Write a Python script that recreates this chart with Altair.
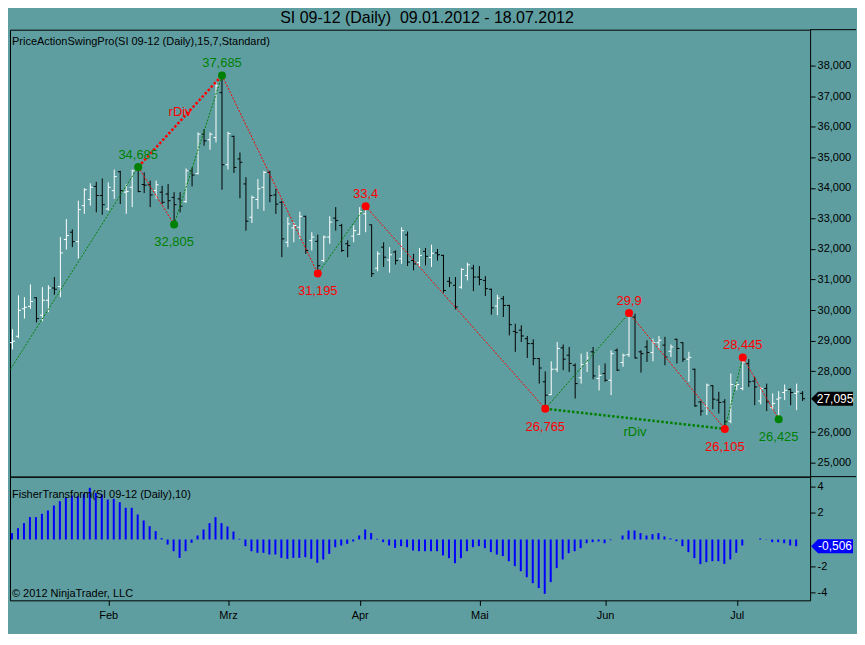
import json
import altair as alt
import pandas as pd

# ---------------- data ----------------
opens = [28.93, 29.14, 30.04, 30.12, 30.40, 29.83, 30.32, 30.72, 30.77, 32.31,
         32.55, 32.24, 33.42, 33.62, 34.05, 33.75, 33.31, 33.91, 34.53, 33.86,
         34.02, 34.67, 34.11, 34.10, 33.91, 33.86, 33.80, 33.69, 33.64, 33.55,
         34.56, 34.47, 35.76, 35.58, 35.65, 37.12, 34.76, 35.69, 34.95, 34.13,
         33.04, 33.62, 34.02, 34.51, 33.77, 33.53, 32.22, 32.69, 32.71, 33.07,
         32.28, 32.25, 31.62, 32.39, 33.01, 32.77, 32.17, 32.42, 32.48, 33.15,
         32.79, 31.37, 32.06, 31.64, 31.90, 31.68, 32.46, 31.62, 31.55, 31.92,
         31.72, 31.87, 31.79, 30.94, 30.81, 30.75, 31.13, 31.37, 31.08, 30.97,
         30.68, 30.13, 30.37, 30.15, 29.30, 29.34, 29.06, 28.90, 28.41, 27.65,
         27.23, 28.06, 28.76, 28.52, 28.19, 27.78, 28.25, 28.63, 27.76, 27.92,
         27.70, 28.68, 28.28, 28.54, 29.77, 28.63, 28.79, 28.61, 28.93, 28.85,
         28.65, 29.04, 28.93, 28.39, 28.06, 26.99, 26.86, 27.52, 27.05, 26.99,
         26.36, 27.51, 27.43, 28.25, 27.67, 27.02, 27.43, 26.80, 27.08, 27.30,
         27.40, 27.27, 27.27]
highs = [29.37, 30.48, 30.42, 30.84, 30.42, 30.75, 30.81, 31.08, 32.39, 32.98,
         32.64, 33.58, 33.99, 34.15, 34.20, 34.31, 34.18, 34.60, 34.56, 34.13,
         34.60, 34.685, 34.51, 34.24, 34.24, 34.07, 34.13, 33.86, 33.86, 34.64,
         34.67, 35.82, 35.93, 35.82, 37.45, 37.685, 35.84, 35.71, 35.16, 34.35,
         33.75, 34.29, 34.56, 34.56, 33.97, 33.58, 33.04, 32.88, 33.22, 33.09,
         32.55, 32.47, 32.44, 33.07, 33.37, 32.82, 32.28, 32.77, 33.37, 33.40,
         32.80, 31.92, 32.22, 32.06, 31.95, 32.71, 32.57, 31.84, 32.03, 32.03,
         32.14, 32.00, 31.81, 31.08, 31.08, 31.37, 31.55, 31.48, 31.44, 31.11,
         30.70, 30.50, 30.46, 30.17, 29.55, 29.50, 29.15, 29.04, 28.43, 27.99,
         28.32, 28.95, 28.87, 28.79, 28.25, 28.57, 28.63, 28.79, 28.19, 28.25,
         28.68, 28.74, 28.57, 29.90, 29.88, 28.68, 29.01, 29.06, 29.15, 29.12,
         28.87, 29.06, 28.95, 28.63, 28.08, 27.02, 27.59, 27.54, 27.32, 27.08,
         27.92, 27.65, 28.445, 28.39, 27.81, 27.48, 27.59, 27.27, 27.34, 27.56,
         27.43, 27.59, 27.34]
lows = [28.71, 29.08, 29.72, 30.04, 29.59, 29.63, 29.93, 30.50, 30.42, 31.98,
        32.06, 31.68, 33.15, 33.42, 33.20, 33.12, 33.26, 33.64, 33.47, 33.15,
        33.37, 33.86, 33.83, 33.37, 33.64, 33.47, 33.31, 32.805, 33.20, 33.51,
        34.05, 34.44, 35.38, 35.25, 35.49, 33.94, 34.60, 34.49, 33.66, 32.60,
        32.85, 33.31, 33.25, 33.53, 33.15, 31.73, 32.06, 32.22, 32.33, 31.84,
        31.95, 31.195, 31.57, 32.17, 32.60, 31.90, 31.73, 32.22, 32.46, 32.55,
        31.08, 31.27, 31.41, 31.22, 31.49, 31.51, 31.44, 31.30, 31.41, 31.46,
        31.41, 31.62, 30.57, 30.75, 30.02, 30.70, 30.97, 30.62, 30.81, 30.46,
        29.85, 29.83, 29.77, 29.17, 28.63, 28.95, 28.43, 28.19, 27.59, 26.765,
        27.21, 27.97, 28.03, 27.97, 27.10, 27.59, 27.97, 27.73, 27.37, 27.65,
        27.21, 28.00, 28.14, 28.46, 28.41, 27.95, 28.30, 28.32, 28.71, 28.19,
        28.46, 28.25, 28.30, 27.65, 26.83, 26.54, 26.56, 26.75, 26.61, 26.105,
        26.29, 27.37, 27.37, 27.48, 26.88, 26.91, 26.69, 26.72, 26.425, 27.05,
        26.88, 26.72, 27.02]
closes = [28.98, 29.99, 30.09, 30.28, 29.72, 30.32, 30.72, 30.68, 31.87, 32.44,
          32.24, 33.29, 33.94, 34.02, 33.75, 33.45, 34.02, 34.37, 33.91, 33.88,
          34.56, 33.88, 34.09, 33.77, 34.10, 33.53, 33.58, 33.45, 33.40, 34.56,
          34.42, 35.76, 35.54, 35.76, 37.34, 34.76, 35.78, 34.67, 34.84, 32.91,
          33.69, 33.97, 34.51, 33.75, 33.47, 32.33, 32.82, 32.77, 33.07, 31.95,
          32.39, 31.45, 32.39, 32.88, 32.93, 31.95, 32.11, 32.60, 33.22, 33.37,
          31.19, 31.84, 31.73, 31.81, 31.62, 32.60, 31.57, 31.51, 31.79, 31.76,
          31.86, 31.81, 30.64, 30.89, 30.10, 31.33, 31.48, 31.08, 31.00, 30.70,
          30.07, 30.39, 30.15, 29.52, 29.26, 29.15, 28.90, 28.41, 28.10, 27.21,
          28.06, 28.74, 28.39, 28.25, 27.59, 28.21, 28.43, 27.84, 27.86, 27.70,
          28.57, 28.03, 28.52, 29.83, 28.43, 28.57, 28.61, 28.93, 29.01, 28.46,
          28.79, 28.74, 28.39, 28.45, 26.86, 26.69, 27.54, 27.08, 26.97, 26.34,
          27.56, 27.56, 28.30, 27.65, 27.48, 27.43, 26.99, 26.94, 27.12, 27.37,
          27.30, 27.32, 27.095]

fisher = [0.48, 0.85, 1.23, 1.68, 1.68, 1.93, 2.18, 2.55, 2.88, 3.13,
          3.30, 3.25, 3.43, 3.88, 3.50, 3.38, 3.00, 3.05, 2.80, 2.38,
          2.38, 1.88, 1.43, 1.00, 0.63, 0.10, -0.38, -0.88, -1.38, -0.88,
          -0.25, 0.30, 0.75, 1.23, 1.68, 1.23, 0.98, 0.60, 0.05, -0.50,
          -0.88, -1.00, -1.00, -1.13, -1.13, -1.38, -1.45, -1.38, -1.38, -1.33,
          -1.45, -1.75, -1.50, -1.08, -0.58, -0.45, -0.33, -0.15, 0.30, 0.75,
          0.48, 0.05, -0.20, -0.45, -0.63, -0.50, -0.58, -0.83, -0.88, -0.88,
          -0.88, -0.88, -1.20, -1.40, -1.78, -1.40, -0.88, -0.58, -0.50, -0.65,
          -0.95, -1.13, -1.25, -1.63, -2.00, -2.38, -2.83, -3.28, -3.65, -4.08,
          -3.20, -2.15, -1.50, -1.03, -0.88, -0.65, -0.28, -0.20, -0.15, -0.28,
          -0.05, 0.0, 0.30, 0.68, 0.68, 0.48, 0.30, 0.40, 0.48, 0.23,
          0.08, -0.13, -0.50, -0.95, -1.40, -1.85, -1.70, -1.63, -1.63, -1.83,
          -1.50, -1.00, -0.45, 0.0, 0.0, 0.08, 0.02, -0.20, -0.20, -0.28,
          -0.45, -0.506]

month_idx = [16, 36, 58, 78, 99, 121]
month_names = ["Feb", "Mrz", "Apr", "Mai", "Jun", "Jul"]

swing_idx = [-5, 21, 27, 35, 51, 59, 89, 103, 119, 122, 128]
swing_price = [26.61, 34.685, 32.805, 37.685, 31.195, 33.40, 26.765, 29.90, 26.105, 28.445, 26.425]
swing_tone = ["", "g", "g", "g", "r", "r", "r", "r", "r", "r", "g"]

div_from = [21, 89]
div_to = [35, 119]
div_tone = ["r", "g"]
div_text = ["rDiv", "rDiv"]

price_ticks = list(range(25, 39))
fisher_ticks = [-4, -2, 0, 2, 4]

title_text = "SI 09-12 (Daily)\u00a0 09.01.2012 - 18.07.2012"
upper_caption = "PriceActionSwingPro(SI 09-12 (Daily),15,7,Standard)"
lower_caption = "FisherTransform(SI 09-12 (Daily),10)"
copyright_text = "\u00a9 2012 NinjaTrader, LLC"

# ---------------- styling ----------------
BG = "#5F9EA0"
GREEN = "#008000"
RED = "#FF0000"
BLUE = "#0000FF"
FONT = "Liberation Sans"

W, H1, H2 = 802, 448, 124
X_DOMAIN = [-2.5 / 6, (W - 2.5) / 6]
Y1_DOMAIN = [24.542, 39.183]
Y2_DOMAIN = [-4.569, 4.719]
TAG = "M -1 0 L -0.667 -0.333 L 1 -0.333 L 1 0.333 L -0.667 0.333 Z"


def de(p, trim=True):
    s = f"{p:.3f}"
    if trim:
        s = s.rstrip("0").rstrip(".")
    return s.replace(".", ",")


bars = pd.DataFrame({"idx": list(range(len(opens))), "open": opens, "high": highs,
                     "low": lows, "close": closes})
fish = pd.DataFrame({"idx": list(range(len(fisher))), "value": fisher})

seg_rows = []
for k in range(len(swing_idx) - 1):
    d = "up" if swing_price[k + 1] > swing_price[k] else "down"
    for j in (k, k + 1):
        seg_rows.append({"seg": k, "dir": d, "idx": swing_idx[j], "price": swing_price[j]})
segs = pd.DataFrame(seg_rows)

pt_rows = []
for k in range(len(swing_idx)):
    if not swing_tone[k]:
        continue
    kind = "high" if swing_price[k] > swing_price[k - 1] else "low"
    pt_rows.append({"idx": swing_idx[k], "price": swing_price[k], "tone": swing_tone[k],
                    "kind": kind, "label": de(swing_price[k])})
pts = pd.DataFrame(pt_rows)

div_rows, div_lab = [], []
for k in range(len(div_from)):
    p0 = swing_price[swing_idx.index(div_from[k])]
    p1 = swing_price[swing_idx.index(div_to[k])]
    div_rows.append({"d": k, "tone": div_tone[k], "idx": div_from[k], "price": p0})
    div_rows.append({"d": k, "tone": div_tone[k], "idx": div_to[k], "price": p1})
    div_lab.append({"tone": div_tone[k], "idx": (div_from[k] + div_to[k]) / 2,
                    "price": (p0 + p1) / 2, "label": div_text[k]})
divs = pd.DataFrame(div_rows)
divl = pd.DataFrame(div_lab)

one = pd.DataFrame({"a": [0]})

# axis labels hidden behind the value tags are left out (the tag covers them)
price_vals = [v for v in price_ticks if abs(v - closes[-1]) > 0.35]
fisher_vals = [v for v in fisher_ticks if abs(v - fisher[-1]) > 0.8]


def xq(field):
    return alt.X(f"{field}:Q", scale=alt.Scale(domain=X_DOMAIN, nice=False, zero=False), axis=None)


def xq_axis(field):
    return alt.X(f"{field}:Q", scale=alt.Scale(domain=X_DOMAIN, nice=False, zero=False),
                 axis=alt.Axis(values=month_idx, title=None, orient="bottom",
                               labelExpr=f"{json.dumps(month_names)}[indexof({json.dumps(month_idx)}, datum.value)]",
                               tickSize=5, labelPadding=4, labelFlush=False))


def y1(field):
    return alt.Y(f"{field}:Q", scale=alt.Scale(domain=Y1_DOMAIN, nice=False, zero=False),
                 axis=alt.Axis(orient="right", values=price_vals, title=None,
                               labelExpr="replace(format(datum.value, '.3f'), '.', ',')",
                               tickSize=5, labelPadding=2))


def y2(field):
    return alt.Y(f"{field}:Q", scale=alt.Scale(domain=Y2_DOMAIN, nice=False, zero=False),
                 axis=alt.Axis(orient="right", values=fisher_vals, title=None,
                               labelExpr="datum.value < 0 ? '-' + (-datum.value) : '' + datum.value",
                               tickSize=5, labelPadding=2))


updown = alt.condition("datum.close >= datum.open", alt.value("white"), alt.value("black"))
tone_col = alt.condition("datum.tone == 'g'", alt.value(GREEN), alt.value(RED))

base = alt.Chart(bars)
hl = base.mark_rule(strokeWidth=1).encode(x=xq("idx"), y=y1("low"), y2="high:Q", color=updown)
op = base.transform_calculate(xl="datum.idx - 0.4167").mark_rule(strokeWidth=1).encode(
    x=xq("xl"), x2="idx:Q", y=y1("open"), color=updown)
cl = base.transform_calculate(xr="datum.idx + 0.4167").mark_rule(strokeWidth=1).encode(
    x=xq("idx"), x2="xr:Q", y=y1("close"), color=updown)

up_lines = alt.Chart(segs).transform_filter("datum.dir == 'up'").mark_line(
    color=GREEN, strokeWidth=1, strokeDash=[2, 1.5], clip=True).encode(
    x=xq("idx"), y=y1("price"), detail="seg:N")
down_lines = alt.Chart(segs).transform_filter("datum.dir == 'down'").mark_line(
    color=RED, strokeWidth=1, strokeDash=[2, 1.5], clip=True).encode(
    x=xq("idx"), y=y1("price"), detail="seg:N")

div_lines = alt.Chart(divs).mark_line(strokeWidth=2.5, strokeDash=[2.5, 2]).encode(
    x=xq("idx"), y=y1("price"), detail="d:N", color=tone_col)

dots = alt.Chart(pts).mark_circle(size=64, opacity=1).encode(x=xq("idx"), y=y1("price"), color=tone_col)
lab_hi = alt.Chart(pts).transform_filter("datum.kind == 'high'").mark_text(
    font=FONT, fontSize=13, dy=-12.5, baseline="middle").encode(
    x=xq("idx"), y=y1("price"), text="label:N", color=tone_col)
lab_lo = alt.Chart(pts).transform_filter("datum.kind == 'low'").mark_text(
    font=FONT, fontSize=13, dy=18, baseline="middle").encode(
    x=xq("idx"), y=y1("price"), text="label:N", color=tone_col)

div_t_r = alt.Chart(divl).transform_filter("datum.tone == 'r'").mark_text(
    font=FONT, fontSize=13, dy=-9, baseline="middle").encode(
    x=xq("idx"), y=y1("price"), text="label:N", color=alt.value(RED))
div_t_g = alt.Chart(divl).transform_filter("datum.tone == 'g'").mark_text(
    font=FONT, fontSize=13, dy=13, baseline="middle").encode(
    x=xq("idx"), y=y1("price"), text="label:N", color=alt.value(GREEN))

title_mark = alt.Chart(one).mark_text(font=FONT, fontSize=16, align="center", baseline="middle",
                                      color="black", text=title_text).encode(
    x=alt.value(418), y=alt.value(-12))
cap1 = alt.Chart(one).mark_text(font=FONT, fontSize=11, align="left", baseline="middle",
                                color="black", text=upper_caption).encode(
    x=alt.value(2), y=alt.value(12))

last = pd.DataFrame({"v": [closes[-1]], "t": [de(closes[-1], trim=False)]})
tag1 = alt.Chart(last).mark_point(shape=TAG, size=1764, filled=True, opacity=1, color="black",
                                  strokeWidth=0, clip=False).encode(x=alt.value(W + 22), y=y1("v"))
tag1t = alt.Chart(last).mark_text(font=FONT, fontSize=12, align="center", baseline="middle",
                                  color="white").encode(x=alt.value(W + 25), y=y1("v"), text="t:N")

edge_top = alt.Chart(one).mark_rule(color="black", strokeWidth=1).encode(
    x=alt.value(W), x2=alt.value(848), y=alt.value(0))
edge_bot = alt.Chart(one).mark_rule(color="black", strokeWidth=1).encode(
    x=alt.value(W), x2=alt.value(848), y=alt.value(H1))

upper = alt.layer(hl, op, cl, up_lines, down_lines, div_lines, dots, lab_hi, lab_lo,
                  div_t_r, div_t_g, title_mark, cap1, tag1, tag1t, edge_top, edge_bot
                  ).properties(width=W, height=H1)

fbars = alt.Chart(fish).mark_rule(strokeWidth=2, color=BLUE, xOffset=-0.5).encode(
    x=xq_axis("idx"), y=y2("value"), y2=alt.datum(0))
cap2 = alt.Chart(one).mark_text(font=FONT, fontSize=11, align="left", baseline="middle",
                                color="black", text=lower_caption).encode(
    x=alt.value(2), y=alt.value(18))
cap3 = alt.Chart(one).mark_text(font=FONT, fontSize=11, align="left", baseline="middle",
                                color="black", text=copyright_text).encode(
    x=alt.value(2), y=alt.value(118))
flast = pd.DataFrame({"v": [fisher[-1]], "t": [de(fisher[-1], trim=False)]})
tag2 = alt.Chart(flast).mark_point(shape=TAG, size=1764, filled=True, opacity=1, color=BLUE,
                                   strokeWidth=0, clip=False).encode(x=alt.value(W + 22), y=y2("v"))
tag2t = alt.Chart(flast).mark_text(font=FONT, fontSize=12, align="center", baseline="middle",
                                   color="white").encode(x=alt.value(W + 25), y=y2("v"), text="t:N")

lower = alt.layer(fbars, cap2, cap3, tag2, tag2t).properties(width=W, height=H2)

chart = alt.vconcat(upper, lower, spacing=0, bounds="flush").properties(
    background=BG,
    padding={"left": 0, "top": 0, "right": 0, "bottom": 12},
).configure_view(stroke="black", strokeWidth=1).configure_axis(
    labelFont=FONT, labelFontSize=11, labelColor="black", tickColor="black",
    tickWidth=1, domain=False, grid=False)

chart.save("out.html", embed_options={"renderer": "svg", "actions": False})
